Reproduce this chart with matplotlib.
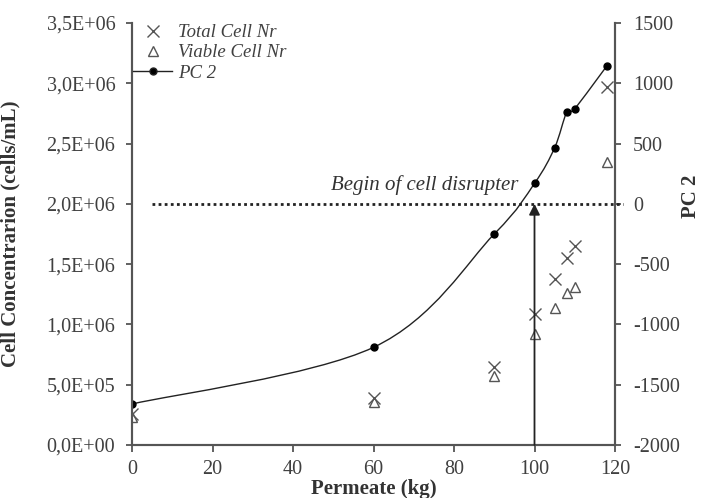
import matplotlib
matplotlib.use("Agg")
import matplotlib.pyplot as plt
from matplotlib.path import Path
from matplotlib.patches import PathPatch
from matplotlib.lines import Line2D

permeate = [0, 60, 90, 100, 105, 108, 110, 118]
total_cells = [2.6e5, 3.9e5, 6.5e5, 1.09e6, 1.38e6, 1.55e6, 1.65e6, 2.97e6]
viable_cells = [2.35e5, 3.6e5, 5.7e5, 9.2e5, 1.14e6, 1.26e6, 1.31e6, 2.35e6]
pc2 = [-1660, -1190, -250, 170, 465, 760, 790, 1145]

x_ticks = [0, 20, 40, 60, 80, 100, 120]
left_ticks = [0, 5e5, 1e6, 1.5e6, 2e6, 2.5e6, 3e6, 3.5e6]
left_labels = ["0,0E+00", "5,0E+05", "1,0E+06", "1,5E+06", "2,0E+06", "2,5E+06", "3,0E+06", "3,5E+06"]
right_ticks = [-2000, -1500, -1000, -500, 0, 500, 1000, 1500]
right_labels = ["-2000", "-1500", "-1000", "-500", "0", "500", "1000", "1500"]
disrupter_start = 100

grey = "#404040"
plt.rcParams["font.family"] = ["Liberation Serif", "DejaVu Serif"]
plt.rcParams["font.size"] = 14

fig = plt.figure(figsize=(7.01, 4.98), dpi=100)
ax = fig.add_axes([132 / 701, 1 - 445 / 498, (615 - 132) / 701, (445 - 23) / 498])
ax2 = ax.twinx()

# cell counts on left axis
ax.plot(permeate, total_cells, linestyle="none", marker="x", markersize=8,
        markeredgewidth=1, color="#555555")
ax.plot(permeate, viable_cells, linestyle="none", marker="^", markersize=7,
        markerfacecolor="none", markeredgewidth=1, color="#555555")

# smoothed PC 2 line (excel style bezier) on right axis
verts = [(permeate[0], pc2[0])]
codes = [Path.MOVETO]
n = len(permeate)
for i in range(n - 1):
    p0 = (permeate[max(i - 1, 0)], pc2[max(i - 1, 0)])
    p1 = (permeate[i], pc2[i])
    p2 = (permeate[i + 1], pc2[i + 1])
    p3 = (permeate[min(i + 2, n - 1)], pc2[min(i + 2, n - 1)])
    c1 = (p1[0] + (p2[0] - p0[0]) / 6, p1[1] + (p2[1] - p0[1]) / 6)
    c2 = (p2[0] - (p3[0] - p1[0]) / 6, p2[1] - (p3[1] - p1[1]) / 6)
    verts += [c1, c2, p2]
    codes += [Path.CURVE4] * 3
ax2.add_patch(PathPatch(Path(verts, codes), facecolor="none", edgecolor="#222222", linewidth=1))
ax2.plot(permeate, pc2, linestyle="none", marker="o", markersize=5, color="black")

# begin of cell disrupter
ax2.plot([5, 122], [0, 0], linestyle=(0, (1, 1.2)), color="#222222", linewidth=2, clip_on=False)
ax2.annotate("", xy=(disrupter_start, 0), xytext=(disrupter_start, -2000),
             arrowprops=dict(arrowstyle="-|>", color="#222222", lw=1.3, mutation_scale=16,
                             shrinkA=0, shrinkB=0))
ax2.text(96, 75, "Begin of cell disrupter", fontstyle="italic", fontsize=15,
         color="#333333", va="bottom", ha="right")

ax.set_xlim(0, 120)
ax.set_ylim(0, 3.5e6)
ax2.set_ylim(-2000, 1500)
ax.set_xticks(x_ticks)
ax.set_yticks(left_ticks)
ax.set_yticklabels(left_labels)
ax2.set_yticks(right_ticks)
ax2.set_yticklabels(right_labels)

for a in (ax, ax2):
    a.spines["top"].set_visible(False)
    for s in ("left", "right", "bottom"):
        a.spines[s].set_color("#555555")
        a.spines[s].set_linewidth(1.5)
    a.tick_params(colors="#555555", labelcolor=grey, length=4, width=1.3, labelsize=14.5)
ax.tick_params(axis="y", pad=8)
ax2.tick_params(axis="y", pad=9)
ax.tick_params(axis="x", length=5, pad=6)

ax.set_xlabel("Permeate (kg)", fontsize=15, fontweight="bold", color="#333333", labelpad=0)
ax.set_ylabel("Cell Concentrarion (cells/mL)", fontsize=15, fontweight="bold", color="#333333")
ax.yaxis.set_label_coords(-112 / 483, 0.5)
ax2.set_ylabel("PC 2", fontsize=15, fontweight="bold", color="#333333")
ax2.yaxis.set_label_coords(1 + 66 / 483, 0.59)

handles = [
    Line2D([], [], linestyle="none", marker="x", markersize=8, markeredgewidth=1, color="#555555"),
    Line2D([], [], linestyle="none", marker="^", markersize=7, markerfacecolor="none",
           markeredgewidth=1, color="#555555"),
    Line2D([], [], color="#222222", linewidth=1, marker="o", markersize=5, markerfacecolor="black"),
]
leg = ax2.legend(handles, ["Total Cell Nr", "Viable Cell Nr", "PC 2"], loc="upper left",
                 bbox_to_anchor=(133 / 701, 1 - 24 / 498), bbox_transform=fig.transFigure,
                 frameon=False, borderpad=0, borderaxespad=0, handlelength=2.1,
                 handletextpad=0.3, labelspacing=0.17, prop={"style": "italic", "size": 13.5})
for t in leg.get_texts():
    t.set_color(grey)

fig.savefig("out.png", dpi=100)
